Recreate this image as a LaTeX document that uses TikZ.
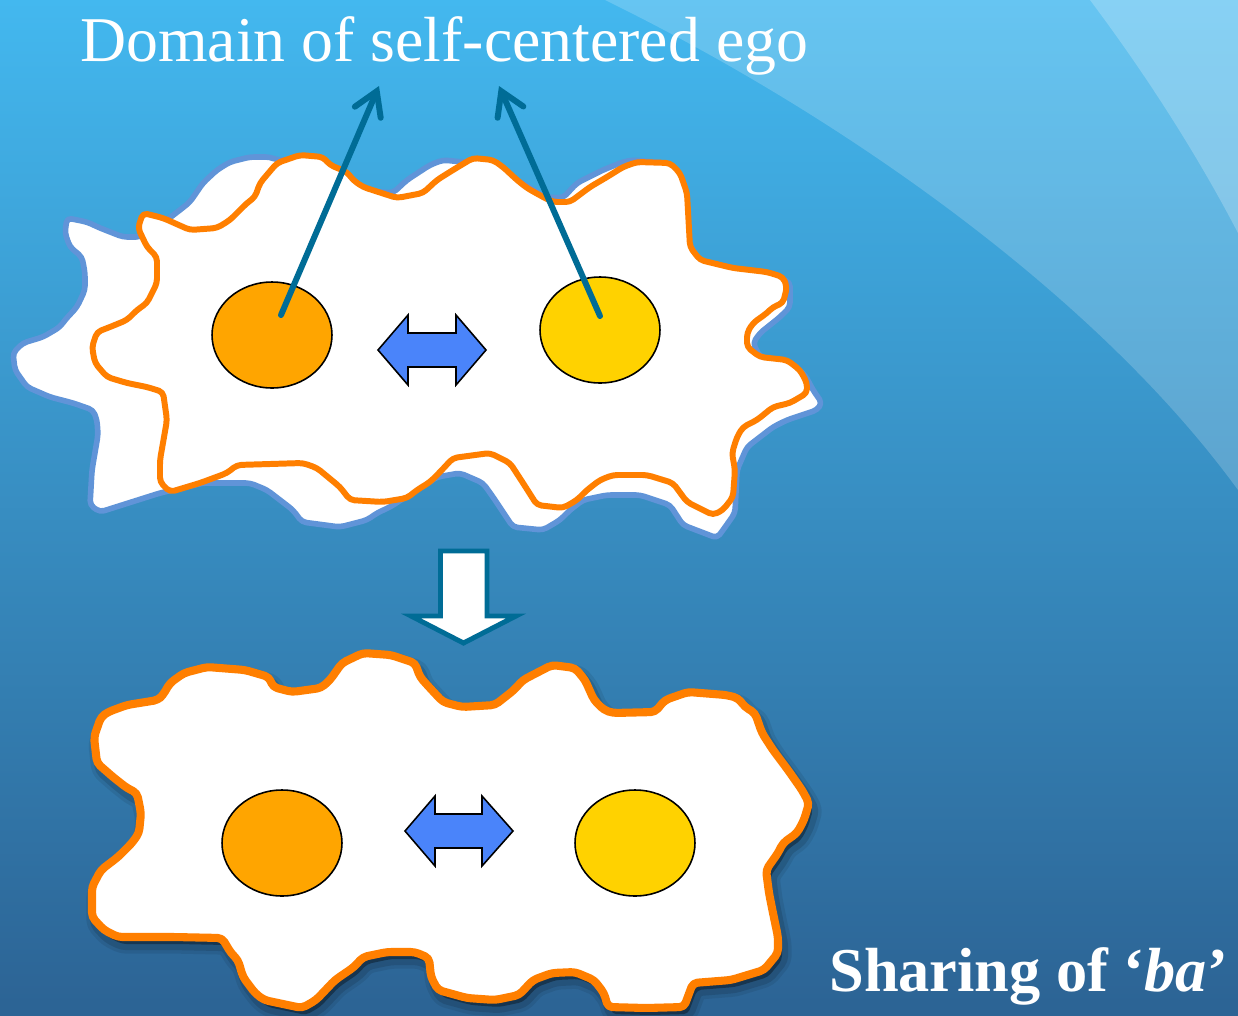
\documentclass[tikz,border=0pt]{standalone}
\usepackage{fontspec}
\setmainfont{Liberation Serif}
\newfontfamily\serifface{Liberation Serif}
\usetikzlibrary{arrows.meta,shapes.geometric,calc}

\definecolor{bgtop}{HTML}{43B8EF}
\definecolor{bgmid}{HTML}{3C9FD4}
\definecolor{bgbot}{HTML}{2C6394}
\definecolor{eggorange}{HTML}{FF7F00}
\definecolor{backblue}{HTML}{6094D8}
\definecolor{pointerteal}{HTML}{006C96}
\definecolor{yolkorange}{HTML}{FFA500}
\definecolor{yolkyellow}{HTML}{FFD200}
\definecolor{swapblue}{HTML}{4A84FA}

% outline of the back egg (upper pair)
\def\backegg{(67,218) -- (87,222) -- (100,228) -- (123,237) -- (140,237) -- (163,223) -- (180,210) -- (190,202) -- (203,183) -- (217,170) -- (230,162) -- (250,157) -- (270,157) -- (277,160) -- (300,160) -- (330,170) -- (360,190) -- (393,193) -- (407,180) -- (430,165) -- (443,160) -- (463,162) -- (490,162) -- (520,182) -- (545,197) -- (563,198) -- (577,183) -- (603,170) -- (623,162) -- (633,160) -- (665,163) -- (682,175) -- (687,240) -- (700,262) -- (770,275) -- (790,282) -- (790,307) -- (780,317) -- (760,333) -- (753,343) -- (760,357) -- (790,363) -- (805,375) -- (813,390) -- (822,403) -- (817,410) -- (787,420) -- (773,427) -- (760,437) -- (747,447) -- (737,470) -- (735,513) -- (723,530) -- (717,538) -- (683,525) -- (670,505) -- (640,495) -- (607,495) -- (583,500) -- (570,510) -- (560,520) -- (543,530) -- (513,527) -- (493,497) -- (483,483) -- (460,473) -- (437,477) -- (390,507) -- (377,513) -- (367,520) -- (340,527) -- (302,522) -- (293,510) -- (267,490) -- (250,483) -- (203,483) -- (160,493) -- (100,512) -- (90,505) -- (92,470) -- (98,435) -- (97,420) -- (93,410) -- (73,403) -- (50,397) -- (27,387) -- (15,370) -- (13,353) -- (23,343) -- (43,337) -- (60,327) -- (65,320) -- (77,307) -- (85,290) -- (85,273) -- (82,257) -- (70,247) -- (65,233) -- cycle}

% outline of the front egg (upper pair)
\def\frontegg{(143,213) -- (163,218) -- (190,230) -- (217,228) -- (230,220) -- (247,203) -- (255,197) -- (260,183) -- (277,163) -- (300,155) -- (323,157) -- (330,165) -- (347,172) -- (353,180) -- (363,187) -- (397,198) -- (423,193) -- (437,180) -- (453,170) -- (473,158) -- (493,160) -- (503,167) -- (517,180) -- (527,188) -- (543,197) -- (553,202) -- (570,202) -- (590,187) -- (607,177) -- (623,167) -- (637,162) -- (670,163) -- (680,173) -- (687,193) -- (690,247) -- (700,260) -- (733,268) -- (767,272) -- (783,277) -- (787,287) -- (783,303) -- (773,307) -- (767,313) -- (753,323) -- (747,333) -- (747,347) -- (760,357) -- (787,360) -- (800,370) -- (807,383) -- (807,393) -- (790,403) -- (773,407) -- (757,420) -- (743,427) -- (737,437) -- (732,453) -- (735,470) -- (733,497) -- (723,510) -- (713,515) -- (687,502) -- (673,483) -- (647,475) -- (613,475) -- (600,480) -- (587,490) -- (577,500) -- (563,508) -- (537,505) -- (523,483) -- (510,463) -- (490,453) -- (453,458) -- (440,472) -- (430,482) -- (417,490) -- (407,498) -- (383,502) -- (350,500) -- (340,487) -- (317,468) -- (303,463) -- (237,465) -- (227,473) -- (200,483) -- (170,492) -- (160,482) -- (160,460) -- (167,420) -- (163,392) -- (147,387) -- (127,383) -- (107,377) -- (95,363) -- (92,347) -- (97,332) -- (110,327) -- (127,320) -- (137,310) -- (147,303) -- (157,283) -- (157,257) -- (147,247) -- (138,228) -- cycle}

% outline of the shared egg (lower)
\def\sharedegg{(108,712) -- (127,705) -- (158,700) -- (163,695) -- (170,683) -- (184,673) -- (207,667) -- (245,670) -- (269,677) -- (273,687) -- (292,692) -- (321,688) -- (330,680) -- (342,663) -- (363,653) -- (391,655) -- (415,663) -- (420,677) -- (429,687) -- (443,702) -- (462,707) -- (495,705) -- (514,690) -- (523,680) -- (552,665) -- (575,668) -- (585,680) -- (594,700) -- (604,710) -- (613,713) -- (655,712) -- (665,700) -- (688,692) -- (726,695) -- (738,698) -- (745,707) -- (755,713) -- (762,733) -- (773,750) -- (788,770) -- (802,790) -- (809,803) -- (804,820) -- (797,833) -- (783,843) -- (778,853) -- (773,860) -- (766,870) -- (769,893) -- (773,913) -- (778,937) -- (778,953) -- (764,970) -- (731,980) -- (693,983) -- (684,1007) -- (646,1008) -- (608,1007) -- (604,993) -- (594,980) -- (575,972) -- (552,973) -- (533,980) -- (519,995) -- (495,1000) -- (467,998) -- (438,990) -- (431,977) -- (429,958) -- (415,952) -- (387,952) -- (363,957) -- (354,967) -- (335,980) -- (316,1000) -- (302,1008) -- (264,1000) -- (255,993) -- (243,977) -- (238,960) -- (231,953) -- (222,938) -- (174,937) -- (118,937) -- (104,930) -- (92,917) -- (92,887) -- (101,870) -- (118,857) -- (132,843) -- (139,833) -- (141,813) -- (137,793) -- (127,788) -- (113,777) -- (97,763) -- (94,737) -- (101,717) -- cycle}

\begin{document}
\begin{tikzpicture}[x=0.02cm,y=-0.02cm,
  blobback/.style={fill=white, draw=backblue, line width=3.2pt, rounded corners=2.5pt, line join=round},
  blobfront/.style={fill=white, draw=eggorange, line width=3.4pt, rounded corners=2.5pt, line join=round},
  blobshared/.style={fill=white, draw=eggorange, line width=4.6pt, rounded corners=2.5pt, line join=round},
  yolk/.style={ellipse, draw=black, line width=0.9pt, minimum width=2.4cm, minimum height=2.12cm, inner sep=0pt},
  swap/.style={fill=swapblue, draw=black, line width=0.9pt, line join=miter},
  pointer/.style={draw=pointerteal, line width=3.4pt, line cap=round,
    -{Straight Barb[length=13pt,width=16pt,line cap=round]}},
  textlabel/.style={anchor=base west, text=white, inner sep=0pt}]

\useasboundingbox (0,0) rectangle (1238,1015);

% background
\shade[top color=bgtop, middle color=bgmid, bottom color=bgbot] (0,0) rectangle (1238,1015);
\fill[white, opacity=0.19] (605,0) .. controls (850,120) and (1100,300) .. (1238,490) -- (1238,0) -- cycle;
\fill[white, opacity=0.22] (1090,0) .. controls (1150,80) and (1200,160) .. (1238,233) -- (1238,0) -- cycle;

% title
\node[textlabel, font=\serifface\fontsize{36.3}{42}\selectfont] (title) at (80,61) {Domain of self-centered ego};

% upper pair of eggs
\draw[blobback] \backegg;
\draw[blobfront] \frontegg;

\node[yolk, fill=yolkorange] (yolkA) at (272,335) {};
\node[yolk, fill=yolkyellow] (yolkB) at (600,330) {};

\draw[swap] (378,350) -- (408,315) -- (408,333) -- (456,333) -- (456,315) -- (486,350)
  -- (456,385) -- (456,367) -- (408,367) -- (408,385) -- cycle;

\coordinate (tipA) at (379,86);
\coordinate (tipB) at (499,86);
\draw[pointer] ($(yolkA)+(9,-20)$) -- (tipA);
\draw[pointer] ($(yolkB)+(0,-14)$) -- (tipB);

% transition arrow
\draw[fill=white, draw=pointerteal, line width=2.8pt, line join=miter]
  (440.5,551) -- (487,551) -- (487,616) -- (516,616) -- (463.5,643) -- (411,616) -- (440.5,616) -- cycle;

% shared egg with soft shadow
\begin{scope}[shift={(4,7)}]
  \draw[black, opacity=0.08, line width=11pt, rounded corners=2.5pt, line join=round] \sharedegg;
  \draw[black, opacity=0.12, line width=7pt, rounded corners=2.5pt, line join=round] \sharedegg;
  \fill[black, opacity=0.35, rounded corners=2.5pt] \sharedegg;
\end{scope}
\draw[blobshared] \sharedegg;

\node[yolk, fill=yolkorange] (yolkC) at (282,843) {};
\node[yolk, fill=yolkyellow] (yolkD) at (635,843) {};

\draw[swap] (405,831) -- (435,796) -- (435,814) -- (482,814) -- (482,796) -- (513,831)
  -- (482,866) -- (482,848) -- (435,848) -- (435,866) -- cycle;

% caption
\node[textlabel, font=\serifface\bfseries\fontsize{35.5}{42}\selectfont] (caption) at (829,991) {Sharing of ‘\textit{ba}’};

\end{tikzpicture}
\end{document}
